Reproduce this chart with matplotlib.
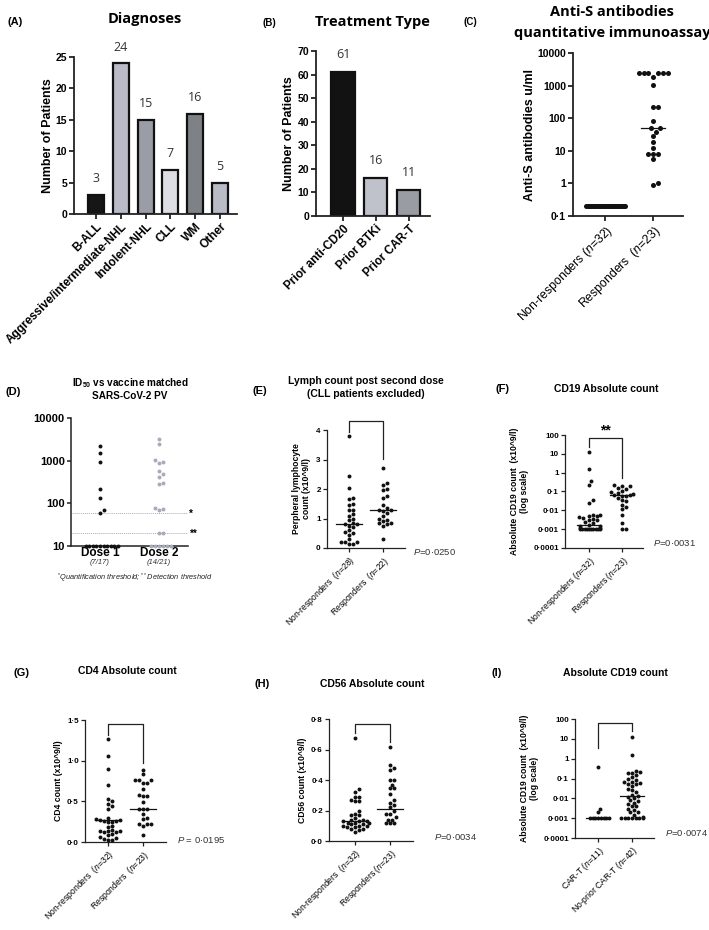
import numpy as np
import matplotlib
matplotlib.use('Agg')
import matplotlib.pyplot as plt
from matplotlib.ticker import FixedLocator, NullLocator

plt.rcParams['font.family'] = ['Liberation Sans', 'DejaVu Sans']
plt.rcParams['mathtext.fontset'] = 'custom'
plt.rcParams['mathtext.it'] = 'Liberation Sans:italic'
plt.rcParams['mathtext.rm'] = 'Liberation Sans'
plt.rcParams['mathtext.bf'] = 'Liberation Sans:bold'

# ---- data ----
diag_labels = ['B-ALL', 'Aggressive/intermediate-NHL', 'Indolent-NHL', 'CLL', 'WM', 'Other']
diag_counts = [3, 24, 15, 7, 16, 5]
diag_colors = ['#161616', '#b9bcc7', '#9b9da6', '#dddee3', '#7e8286', '#b8bac5']

treat_labels = ['Prior anti-CD20', 'Prior BTKi', 'Prior CAR-T']
treat_counts = [61, 16, 11]
treat_colors = ['#121212', '#c0c2cb', '#9a9ca4']

resp_labels_c = ['Non-responders ($n$=32)', 'Responders  ($n$=23)']
c_nonresp = [0.2] * 32
c_resp = [2400, 2400, 2400, 2400, 2400, 2400, 1900, 1050, 220, 220, 85, 50, 50,
          38, 28, 19, 12, 8, 8, 8, 5.5, 1.0, 0.9]
c_medians = [0.2, 50]

dose_labels = ['Dose 1', 'Dose 2']
dose_fracs = ['(7/17)', '(14/21)']
d_dose1 = [2150, 1550, 950, 212, 135, 69, 60, 10, 10, 10, 10, 10, 10, 10, 10, 10, 10]
d_dose2 = [3200, 2500, 950, 900, 1050, 570, 480, 420, 300, 280, 78, 72, 70, 20, 20,
           10, 10, 10, 10, 10, 10]
d_thresholds = [60, 20]

e_labels = ['Non-responders  ($n$=28)', 'Responders  ($n$=22)']
e_nonresp = [3.8, 2.45, 2.05, 1.7, 1.65, 1.5, 1.45, 1.3, 1.3, 1.15, 1.1, 1.0, 0.95, 0.85,
             0.8, 0.8, 0.75, 0.7, 0.6, 0.55, 0.5, 0.45, 0.3, 0.2, 0.2, 0.2, 0.15, 0.15]
e_resp = [2.7, 2.2, 2.15, 2.0, 1.95, 1.75, 1.7, 1.45, 1.35, 1.3, 1.3, 1.25, 1.2, 1.1,
          1.0, 0.95, 0.9, 0.85, 0.85, 0.8, 0.75, 0.3]
e_medians = [0.82, 1.28]

f_labels = ['Non-responders ($n$=32)', 'Responders ($n$=23)']
f_nonresp = [12, 1.5, 0.35, 0.22, 0.037, 0.026, 0.006, 0.0055, 0.005, 0.005, 0.0045,
             0.004, 0.0035, 0.003, 0.003, 0.0025, 0.002, 0.0017, 0.0015, 0.0015, 0.0012,
             0.0012, 0.001, 0.001, 0.001, 0.001, 0.001, 0.001, 0.001, 0.001, 0.001, 0.001]
f_resp = [0.22, 0.2, 0.2, 0.15, 0.14, 0.1, 0.09, 0.08, 0.07, 0.065, 0.065, 0.06, 0.06,
          0.045, 0.035, 0.03, 0.02, 0.015, 0.012, 0.006, 0.002, 0.001, 0.001]
f_medians = [0.0016, 0.065]

g_labels = ['Non-responders  ($n$=32)', 'Responders  ($n$=23)']
g_nonresp = [1.27, 1.06, 0.90, 0.70, 0.53, 0.50, 0.47, 0.44, 0.40, 0.29, 0.28, 0.27,
             0.27, 0.26, 0.26, 0.25, 0.24, 0.20, 0.18, 0.15, 0.14, 0.13, 0.13, 0.12,
             0.12, 0.10, 0.08, 0.06, 0.05, 0.04, 0.03, 0.02]
g_resp = [0.88, 0.83, 0.76, 0.76, 0.76, 0.72, 0.72, 0.65, 0.575, 0.57, 0.57, 0.49,
          0.41, 0.41, 0.41, 0.34, 0.30, 0.28, 0.22, 0.22, 0.22, 0.20, 0.08]
g_medians = [0.27, 0.41]

h_labels = ['Non-responders  ($n$=32)', 'Responders ($n$=23)']
h_nonresp = [0.675, 0.34, 0.32, 0.29, 0.29, 0.27, 0.26, 0.26, 0.2, 0.18, 0.17, 0.17,
             0.15, 0.14, 0.14, 0.13, 0.13, 0.13, 0.12, 0.12, 0.12, 0.11, 0.11, 0.10,
             0.10, 0.10, 0.09, 0.09, 0.08, 0.08, 0.07, 0.06]
h_resp = [0.615, 0.5, 0.48, 0.465, 0.40, 0.40, 0.37, 0.345, 0.345, 0.31, 0.27, 0.25,
          0.235, 0.22, 0.2, 0.18, 0.18, 0.16, 0.14, 0.14, 0.115, 0.115, 0.115]
h_medians = [0.13, 0.21]

i_labels = ['CAR-T ($n$=11)', 'No-prior CAR-T ($n$=42)']
i_cart = [0.37, 0.003, 0.002, 0.001, 0.001, 0.001, 0.001, 0.001, 0.001, 0.001, 0.001]
i_noprior = [12, 1.5, 0.25, 0.22, 0.2, 0.2, 0.15, 0.12, 0.1, 0.08, 0.07, 0.07, 0.06,
             0.05, 0.05, 0.04, 0.03, 0.025, 0.02, 0.015, 0.013, 0.012, 0.01, 0.008,
             0.007, 0.006, 0.005, 0.004, 0.004, 0.003, 0.0025, 0.002, 0.002, 0.0015,
             0.0012, 0.001, 0.001, 0.001, 0.001, 0.001, 0.001, 0.001]
i_medians = [0.001, 0.0125]

log_ticks = [0.0001, 0.001, 0.01, 0.1, 1, 10, 100]
log_ticklabels = ['0·0001', '0·001', '0·01', '0·1', '1', '10', '100']

# brackets: (left leg bottom, top, right leg bottom)
e_bracket = (3.94, 4.3, 3.02)
f_bracket = (23, 66, 0.5)
g_bracket = (1.32, 1.45, 0.97)
h_bracket = (0.71, 0.767, 0.65)
i_bracket = (3.4, 63, 24)

W, H = 709, 930
fig = plt.figure(figsize=(W / 100, H / 100), dpi=100)


def add_ax(x0, x1, ytop, ybot):
    return fig.add_axes([x0 / W, 1 - ybot / H, (x1 - x0) / W, (ybot - ytop) / H])


def ftext(x, y, s, **kw):
    kw.setdefault('ha', 'center')
    kw.setdefault('va', 'center')
    fig.text(x / W, 1 - y / H, s, **kw)


def style(ax, lw=0.9, ticklen=3):
    for s in ['top', 'right']:
        ax.spines[s].set_visible(False)
    for s in ['left', 'bottom']:
        ax.spines[s].set_linewidth(lw)
        ax.spines[s].set_color('#222222')
    ax.tick_params(width=lw, length=ticklen, color='#222222', pad=1.5)


def swarm(ax, xc, vals, d, maxhalf):
    vals = np.asarray(vals, float)
    pts = ax.transData.transform(np.column_stack([np.full(len(vals), xc), vals]))
    ypx = pts[:, 1]
    cands = [0.0]
    for k in range(1, 120):
        cands += [k * d / 2, -k * d / 2]
    xs = np.zeros(len(vals))
    placed = []
    for i in np.argsort(ypx, kind='stable'):
        for c in cands:
            if all((c - px) ** 2 + (ypx[i] - py) ** 2 >= (0.97 * d) ** 2 for px, py in placed):
                break
        placed.append((c, ypx[i]))
        xs[i] = c
    for v in np.unique(vals):
        m = vals == v
        mx = np.abs(xs[m]).max()
        if mx > maxhalf:
            xs[m] = xs[m] * maxhalf / mx
    unit = ax.transData.transform([[1, 1]])[0, 0] - ax.transData.transform([[0, 1]])[0, 0]
    return xc + xs / unit


def dots(ax, groups, colors, s, d, maxhalf, medians=None, half=0.35):
    for i, vals in enumerate(groups):
        xs = swarm(ax, i, vals, d, maxhalf)
        ax.scatter(xs, vals, s=s, color=colors[i], lw=0, zorder=3, clip_on=False)
        if medians is not None:
            ax.plot([i - half, i + half], [medians[i]] * 2, color='#111111', lw=0.9, zorder=4)


def bracket(ax, b):
    ax.plot([0, 0, 1, 1], [b[0], b[1], b[1], b[2]], color='#222222', lw=0.9, clip_on=False)


def xlabels(ax, labels, size, weight='normal'):
    ax.set_xticks(range(len(labels)))
    ax.set_xticklabels(labels, rotation=45, ha='right', rotation_mode='anchor',
                       fontsize=size, fontweight=weight)


# ---------- (A) Diagnoses ----------
ax = add_ax(74, 237, 57, 214)
ax.bar(range(6), diag_counts, width=0.65, color=diag_colors, edgecolor='#111111', lw=1.6)
for i, v in enumerate(diag_counts):
    ax.annotate(str(v), (i, v), xytext=(0, 7), textcoords='offset points', ha='center',
                va='bottom', fontsize=9, family='Open Sans', color='#333333')
ax.set_xlim(-0.89, 5.69)
ax.set_ylim(0, 25)
ax.set_yticks([0, 5, 10, 15, 20, 25])
ax.set_yticklabels(['0', '5', '10', '15', '20', '25'], fontsize=7.5, fontweight='bold')
xlabels(ax, diag_labels, 8.5, 'bold')
ax.set_ylabel('Number of Patients', fontsize=9, fontweight='bold', labelpad=1)
style(ax, 1.3, 3.5)
ftext(145, 19, 'Diagnoses', fontsize=10.5, fontweight='bold', family='Open Sans')
ftext(15, 22, '(A)', fontsize=8, fontweight='bold')

# ---------- (B) Treatment type ----------
ax = add_ax(316, 430, 51, 216)
ax.bar(range(3), treat_counts, width=0.7, color=treat_colors, edgecolor='#111111', lw=1.6)
for i, v in enumerate(treat_counts):
    ax.annotate(str(v), (i, v), xytext=(0, 8), textcoords='offset points', ha='center',
                va='bottom', fontsize=9, family='Open Sans', color='#333333')
ax.set_xlim(-0.82, 2.64)
ax.set_ylim(0, 70)
ax.set_yticks(range(0, 71, 10))
ax.set_yticklabels([str(t) for t in range(0, 71, 10)], fontsize=7.5, fontweight='bold')
xlabels(ax, treat_labels, 8.5, 'bold')
ax.set_ylabel('Number of Patients', fontsize=9, fontweight='bold', labelpad=2)
style(ax, 1.3, 3.5)
ftext(372, 22, 'Treatment Type', fontsize=10.5, fontweight='bold', family='Open Sans')
ftext(269, 23, '(B)', fontsize=7, fontweight='bold')

# ---------- (C) Anti-S antibodies ----------
ax = add_ax(573, 683, 53, 216)
ax.set_yscale('log')
ax.set_xlim(-0.67, 1.62)
ax.set_ylim(0.1, 10000)
ax.yaxis.set_major_locator(FixedLocator([0.1, 1, 10, 100, 1000, 10000]))
ax.yaxis.set_minor_locator(NullLocator())
ax.set_yticklabels(['0·1', '1', '10', '100', '1000', '10000'], fontsize=7.5, fontweight='bold')
dots(ax, [c_nonresp, c_resp], ['#111111', '#111111'], 13, 4.8, 20, c_medians, 0.25)
xlabels(ax, resp_labels_c, 8.8)
ax.set_ylabel('Anti-S antibodies u/ml', fontsize=9, fontweight='bold', labelpad=1)
style(ax, 1.3, 3.5)
ftext(612, 12, 'Anti-S antibodies', fontsize=10.5, fontweight='bold', family='Open Sans')
ftext(612, 33, 'quantitative immunoassay', fontsize=10.5, fontweight='bold', family='Open Sans')
ftext(470, 22, '(C)', fontsize=7, fontweight='bold')

# ---------- (D) ID50 ----------
ax = add_ax(71, 188, 418, 546)
ax.set_yscale('log')
ax.set_xlim(-0.49, 1.49)
ax.set_ylim(10, 10000)
ax.yaxis.set_major_locator(FixedLocator([10, 100, 1000, 10000]))
ax.yaxis.set_minor_locator(NullLocator())
ax.set_yticklabels(['10', '100', '1000', '10000'], fontsize=8, fontweight='bold')
for t in d_thresholds:
    ax.axhline(t, color='#a9adbb', lw=0.7, ls=(0, (1, 1)), zorder=1)
dots(ax, [d_dose1, d_dose2], ['#111111', '#a8abb8'], 8, 4.0, 18)
ax.set_xticks([0, 1])
ax.set_xticklabels(dose_labels, fontsize=8.5, fontweight='bold')
style(ax, 1.1, 3)
ax.tick_params(axis='x', length=0, pad=1)
for i, fr in enumerate(dose_fracs):
    ftext(100 + 59 * i, 563, fr, fontsize=5.5, style='italic', color='#333333')
ftext(191, 514, '*', fontsize=7, fontweight='bold')
ftext(194, 534, '**', fontsize=7, fontweight='bold')
ftext(135, 578, '$^{*}$Quantification threshold; $^{**}$Detection threshold',
      fontsize=5.3, style='italic', color='#222222')
ftext(130, 383, r'ID$_{\mathbf{50}}$ vs vaccine matched', fontsize=7.2, fontweight='bold')
ftext(130, 396, 'SARS-CoV-2 PV', fontsize=7.2, fontweight='bold')
ftext(13, 392, '(D)', fontsize=8, fontweight='bold')

# ---------- (E) Lymph count ----------
ax = add_ax(327, 405, 430, 548)
ax.set_xlim(-0.65, 1.65)
ax.set_ylim(0, 4)
ax.set_yticks([0, 1, 2, 3, 4])
ax.set_yticklabels(['0', '1', '2', '3', '4'], fontsize=5.8, fontweight='bold')
dots(ax, [e_nonresp, e_resp], ['#111111', '#111111'], 8, 4.0, 14, e_medians, 0.38)
bracket(ax, e_bracket)
xlabels(ax, e_labels, 6.2)
ax.set_ylabel('Perpheral lymphocyte\ncount (x10^9/l)', fontsize=6.2, fontweight='bold',
              labelpad=4, linespacing=1.1)
style(ax)
ftext(413, 552, '$P$=0·0250', fontsize=6.8, ha='left', color='#333333')
ftext(366, 381, 'Lymph count post second dose', fontsize=7.5, fontweight='bold')
ftext(366, 394, '(CLL patients excluded)', fontsize=7.5, fontweight='bold')
ftext(260, 391, '(E)', fontsize=8, fontweight='bold')

# ---------- (F) CD19 ----------
ax = add_ax(565, 643, 435, 548)
ax.set_yscale('log')
ax.set_xlim(-0.73, 1.64)
ax.set_ylim(0.0001, 100)
ax.yaxis.set_major_locator(FixedLocator(log_ticks))
ax.yaxis.set_minor_locator(NullLocator())
ax.set_yticklabels(log_ticklabels, fontsize=5.8, fontweight='bold')
dots(ax, [f_nonresp, f_resp], ['#111111', '#111111'], 8, 4.0, 11, f_medians, 0.36)
bracket(ax, f_bracket)
ax.text(0.5, 170, '**', ha='center', va='center', fontsize=10, fontweight='bold')
xlabels(ax, f_labels, 6.2)
ax.set_ylabel('Absolute CD19 count  (x10^9/l)\n(log scale)', fontsize=6.2,
              fontweight='bold', labelpad=3, linespacing=1.1)
style(ax)
ftext(653, 543, '$P$=0·0031', fontsize=6.8, ha='left', color='#333333')
ftext(606, 389, 'CD19 Absolute count', fontsize=7.5, fontweight='bold')
ftext(503, 389, '(F)', fontsize=8, fontweight='bold')

# ---------- (G) CD4 ----------
ax = add_ax(85, 166, 720, 842)
ax.set_xlim(-0.66, 1.66)
ax.set_ylim(0, 1.5)
ax.set_yticks([0, 0.5, 1.0, 1.5])
ax.set_yticklabels(['0·0', '0·5', '1·0', '1·5'], fontsize=5.8, fontweight='bold')
dots(ax, [g_nonresp, g_resp], ['#111111', '#111111'], 8, 4.0, 14, g_medians, 0.38)
bracket(ax, g_bracket)
xlabels(ax, g_labels, 6.2)
ax.set_ylabel('CD4 count (x10^9/l)', fontsize=6.2, fontweight='bold', labelpad=3)
style(ax)
ftext(177, 840, '$P$ = 0·0195', fontsize=6.8, ha='left', color='#333333')
ftext(127, 671, 'CD4 Absolute count', fontsize=7.5, fontweight='bold')
ftext(22, 673, '(G)', fontsize=8, fontweight='bold')

# ---------- (H) CD56 ----------
ax = add_ax(329, 413, 719, 841)
ax.set_xlim(-0.74, 1.66)
ax.set_ylim(0, 0.8)
ax.set_yticks([0, 0.2, 0.4, 0.6, 0.8])
ax.set_yticklabels(['0·0', '0·2', '0·4', '0·6', '0·8'], fontsize=5.8, fontweight='bold')
dots(ax, [h_nonresp, h_resp], ['#111111', '#111111'], 8, 4.0, 14, h_medians, 0.38)
bracket(ax, h_bracket)
xlabels(ax, h_labels, 6.2)
ax.set_ylabel('CD56 count (x10^9/l)', fontsize=6.2, fontweight='bold', labelpad=3)
style(ax)
ftext(434, 837, '$P$=0·0034', fontsize=6.8, ha='left', color='#333333')
ftext(372, 684, 'CD56 Absolute count', fontsize=7.5, fontweight='bold')
ftext(262, 684, '(H)', fontsize=8, fontweight='bold')

# ---------- (I) CD19 by CAR-T ----------
ax = add_ax(575, 654, 719, 838)
ax.set_yscale('log')
ax.set_xlim(-0.68, 1.65)
ax.set_ylim(0.0001, 100)
ax.yaxis.set_major_locator(FixedLocator(log_ticks))
ax.yaxis.set_minor_locator(NullLocator())
ax.set_yticklabels(log_ticklabels, fontsize=5.8, fontweight='bold')
dots(ax, [i_cart, i_noprior], ['#111111', '#111111'], 8, 4.0, 11, i_medians, 0.36)
bracket(ax, i_bracket)
xlabels(ax, i_labels, 6.2)
ax.set_ylabel('Absolute CD19 count  (x10^9/l)\n(log scale)', fontsize=6.2,
              fontweight='bold', labelpad=3, linespacing=1.1)
style(ax)
ftext(665, 833, '$P$=0·0074', fontsize=6.8, ha='left', color='#333333')
ftext(615, 673, 'Absolute CD19 count', fontsize=7.5, fontweight='bold')
ftext(497, 673, '(I)', fontsize=8, fontweight='bold')

fig.savefig('out.png', dpi=100, facecolor='white')
